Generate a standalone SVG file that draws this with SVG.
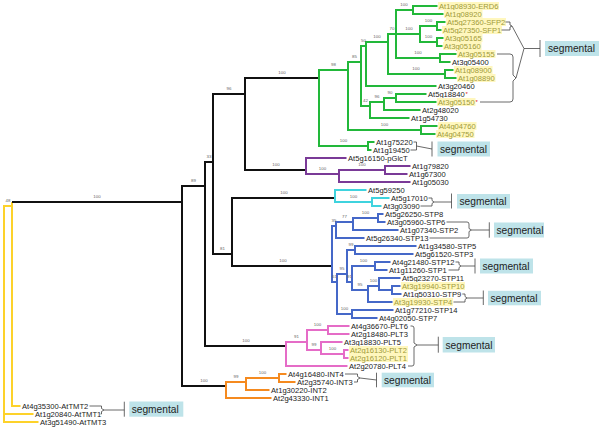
<svg xmlns="http://www.w3.org/2000/svg" width="600" height="427" viewBox="0 0 600 427">
<style>
.t{fill:none;stroke-width:2;stroke-linejoin:miter;stroke-linecap:butt}
.k{stroke:#111}.y{stroke:#FDD22A}.g{stroke:#22B83A}.p{stroke:#7A3A97}.c{stroke:#3FD3DE}.u{stroke:#4568C8}.m{stroke:#E56CC7}.o{stroke:#F58A1F}
text{font-family:"Liberation Sans",Arial,sans-serif}
.lf{font-size:7.6px;fill:#222}
.hl{fill:#A09A38}
.hb{fill:#FFF7BE}
.bs{font-size:4.4px;fill:#666;text-anchor:middle}
.br{fill:none;stroke:#444;stroke-width:0.8}
.sb{fill:#BEE3E9}
.st{font-size:10.2px;fill:#222}
.ast{font-size:6px;fill:#E02020}
</style>
<g id="connectors">
<path class="t y" d="M12,206 H4 V422 H38.5 M4,414 H33.5 M12,202 V406 H20.5"/>
<path class="t k" d="M12,202 H182 M205,186 H182 V386 H226 M213,162 H205 V346 H286 M245,94 H213 V254 H232 M319,78 H245 V170 H306 M335,198 H232 V266 H332"/>
<path class="t g" d="M348,70 H319 V146 H368 M361,62 H348 V130 H421 M366,46 H361 V106 H370 M388,42 H366 V86 H436.5 M396,34 H388 V74 H445 M413,10 H396 V58 H440 M396,34 H420 M437.5,6 H413 V14 H443.5 M437,26 H420 V42 H437 M445.5,22 H437 V30 H441.5 M443.5,38 H437 V46 H442.5 M456.5,54 H440 V62 H450.5 M453.5,70 H445 V78 H456.5 M384,102 H370 V118 H409.5 M396,98 H384 V110 H420.5 M426.5,94 H396 V102 H436.5 M437.5,126 H421 V134 H435.5 M374.5,142 H368 V150 H371.5"/>
<path class="t p" d="M346.5,158 H306 V174 H339 M385,170 H339 V182 H410.5 M410.5,166 H385 V174 H407.5"/>
<path class="t c" d="M366.5,190 H335 V202 H372 M389.5,198 H372 V206 H381.5"/>
<path class="t u" d="M336,226 H332 V282 H337 M353,222 H336 V238 H364.5 M378,218 H353 V230 H398.5 M383.5,214 H378 V222 H385.5 M347,274 H337 V314 H352 M355,250 H347 V282 H352 M416.5,246 H355 V254 H413.5 M375,266 H352 V290 H368 M390.5,262 H375 V270 H387.5 M379,286 H368 V302 H392.5 M400.5,278 H379 V290 H392 M400.5,286 H392 V294 H401.5 M393.5,310 H352 V318 H377.5"/>
<path class="t m" d="M307,342 H286 V366 H347.5 M328,330 H307 V350 H321 M349.5,326 H328 V334 H349.5 M342.5,342 H321 V354 H344 M348.5,350 H344 V358 H348.5"/>
<path class="t o" d="M246,382 H226 V398 H271.5 M279,378 H246 V390 H269.5 M286.5,374 H279 V382 H295.5"/>
</g>
<g id="support">
<text class="bs" x="8" y="202">48</text><text class="bs" x="97" y="198">100</text><text class="bs" x="193.5" y="182">89</text><text class="bs" x="209" y="158">33</text><text class="bs" x="229" y="90">96</text><text class="bs" x="282" y="74">100</text><text class="bs" x="276" y="166">100</text><text class="bs" x="222.5" y="250">81</text><text class="bs" x="284" y="194">100</text><text class="bs" x="283" y="262">100</text><text class="bs" x="246" y="342">100</text><text class="bs" x="204" y="382">100</text>
<text class="bs" x="333.5" y="66">98</text><text class="bs" x="354.5" y="58">85</text><text class="bs" x="363.5" y="42">50</text><text class="bs" x="377" y="38">100</text><text class="bs" x="392" y="30">70</text><text class="bs" x="404" y="6">100</text><text class="bs" x="409" y="30">100</text><text class="bs" x="428.5" y="22">100</text><text class="bs" x="428.5" y="38">100</text><text class="bs" x="418" y="54">100</text><text class="bs" x="416" y="70">100</text><text class="bs" x="365.5" y="102">42</text><text class="bs" x="377" y="98">96</text><text class="bs" x="390" y="94">90</text><text class="bs" x="384.5" y="126">100</text><text class="bs" x="343.5" y="142">100</text>
<text class="bs" x="322.5" y="170">100</text><text class="bs" x="362" y="166">100</text><text class="bs" x="353.5" y="198">100</text>
<text class="bs" x="334" y="222">35</text><text class="bs" x="344.5" y="218">77</text><text class="bs" x="365.5" y="214">100</text><text class="bs" x="334.5" y="278">61</text><text class="bs" x="342" y="270">95</text><text class="bs" x="351" y="246">99</text><text class="bs" x="349.5" y="278">91</text><text class="bs" x="363.5" y="262">100</text><text class="bs" x="360" y="286">95</text><text class="bs" x="373.5" y="282">100</text><text class="bs" x="344.5" y="310">100</text>
<text class="bs" x="296.5" y="338">91</text><text class="bs" x="317.5" y="326">100</text><text class="bs" x="314" y="346">99</text><text class="bs" x="332.5" y="350">100</text>
<text class="bs" x="236" y="378">99</text><text class="bs" x="262.5" y="374">100</text>
</g>
<g id="leaf-ERD6"><rect class="hb" x="438" y="2" width="61" height="8"/><text class="lf hl" x="439" y="8.7">At1g08930-ERD6</text></g>
<g id="leaf-At1g08920"><rect class="hb" x="444" y="10" width="38.5" height="8"/><text class="lf hl" x="445" y="16.7">At1g08920</text></g>
<g id="leaf-SFP2"><rect class="hb" x="446" y="18" width="60" height="8"/><text class="lf hl" x="447" y="24.7">At5g27360-SFP2</text></g>
<g id="leaf-SFP1"><rect class="hb" x="442" y="26" width="60" height="8"/><text class="lf hl" x="443" y="32.7">At5g27350-SFP1</text></g>
<g id="leaf-At3g05165"><rect class="hb" x="444" y="34" width="38.5" height="8"/><text class="lf hl" x="445" y="40.7">At3g05165</text></g>
<g id="leaf-At3g05160"><rect class="hb" x="443" y="42" width="38.5" height="8"/><text class="lf hl" x="444" y="48.7">At3g05160</text></g>
<g id="leaf-At3g05155"><rect class="hb" x="457" y="50" width="38.5" height="8"/><text class="lf hl" x="458" y="56.7">At3g05155</text></g>
<g id="leaf-At3g05400"><text class="lf" x="452" y="64.7">At3g05400</text></g>
<g id="leaf-At1g08900"><rect class="hb" x="454" y="66" width="38.5" height="8"/><text class="lf hl" x="455" y="72.7">At1g08900</text></g>
<g id="leaf-At1g08890"><rect class="hb" x="457" y="74" width="38.5" height="8"/><text class="lf hl" x="458" y="80.7">At1g08890</text></g>
<g id="leaf-At3g20460"><text class="lf" x="438" y="88.7">At3g20460</text></g>
<g id="leaf-At5g18840"><text class="lf" x="428" y="96.7">At5g18840</text><text class="ast" x="465.5" y="96">*</text></g>
<g id="leaf-At3g05150"><rect class="hb" x="437" y="98" width="38.5" height="8"/><text class="lf hl" x="438" y="104.7">At3g05150</text><text class="ast" x="475.5" y="104">*</text></g>
<g id="leaf-At2g48020"><text class="lf" x="422" y="112.7">At2g48020</text></g>
<g id="leaf-At1g54730"><text class="lf" x="411" y="120.7">At1g54730</text></g>
<g id="leaf-At4g04760"><rect class="hb" x="438" y="122" width="38.5" height="8"/><text class="lf hl" x="439" y="128.7">At4g04760</text></g>
<g id="leaf-At4g04750"><rect class="hb" x="436" y="130" width="38.5" height="8"/><text class="lf hl" x="437" y="136.7">At4g04750</text></g>
<g id="leaf-At1g75220"><text class="lf" x="376" y="144.7">At1g75220</text></g>
<g id="leaf-At1g19450"><text class="lf" x="373" y="152.7">At1g19450</text></g>
<g id="leaf-pGlcT"><text class="lf" x="348" y="160.7">At5g16150-pGlcT</text></g>
<g id="leaf-At1g79820"><text class="lf" x="412" y="168.7">At1g79820</text></g>
<g id="leaf-At1g67300"><text class="lf" x="409" y="176.7">At1g67300</text></g>
<g id="leaf-At1g05030"><text class="lf" x="412" y="184.7">At1g05030</text></g>
<g id="leaf-At5g59250"><text class="lf" x="368" y="192.7">At5g59250</text></g>
<g id="leaf-At5g17010"><text class="lf" x="391" y="200.7">At5g17010</text></g>
<g id="leaf-At3g03090"><text class="lf" x="383" y="208.7">At3g03090</text></g>
<g id="leaf-STP8"><text class="lf" x="385" y="216.7">At5g26250-STP8</text></g>
<g id="leaf-STP6"><text class="lf" x="387" y="224.7">At3g05960-STP6</text></g>
<g id="leaf-STP2"><text class="lf" x="400" y="232.7">At1g07340-STP2</text></g>
<g id="leaf-STP13"><text class="lf" x="366" y="240.7">At5g26340-STP13</text></g>
<g id="leaf-STP5"><text class="lf" x="418" y="248.7">At1g34580-STP5</text></g>
<g id="leaf-STP3"><text class="lf" x="415" y="256.7">At5g61520-STP3</text></g>
<g id="leaf-STP12"><text class="lf" x="392" y="264.7">At4g21480-STP12</text></g>
<g id="leaf-STP1"><text class="lf" x="389" y="272.7">At1g11260-STP1</text></g>
<g id="leaf-STP11"><text class="lf" x="402" y="280.7">At5g23270-STP11</text></g>
<g id="leaf-STP10"><rect class="hb" x="401" y="282" width="64" height="8"/><text class="lf hl" x="402" y="288.7">At3g19940-STP10</text></g>
<g id="leaf-STP9"><text class="lf" x="403" y="296.7">At1g50310-STP9</text></g>
<g id="leaf-STP4"><rect class="hb" x="393" y="298" width="60" height="8"/><text class="lf hl" x="394" y="304.7">At3g19930-STP4</text></g>
<g id="leaf-STP14"><text class="lf" x="395" y="312.7">At1g77210-STP14</text></g>
<g id="leaf-STP7"><text class="lf" x="379" y="320.7">At4g02050-STP7</text></g>
<g id="leaf-PLT6"><text class="lf" x="351" y="328.7">At4g36670-PLT6</text></g>
<g id="leaf-PLT3"><text class="lf" x="351" y="336.7">At2g18480-PLT3</text></g>
<g id="leaf-PLT5"><text class="lf" x="344" y="344.7">At3g18830-PLT5</text></g>
<g id="leaf-PLT2"><rect class="hb" x="349" y="346" width="59" height="8"/><text class="lf hl" x="350" y="352.7">At2g16130-PLT2</text></g>
<g id="leaf-PLT1"><rect class="hb" x="349" y="354" width="59" height="8"/><text class="lf hl" x="350" y="360.7">At2g16120-PLT1</text></g>
<g id="leaf-PLT4"><text class="lf" x="349" y="368.7">At2g20780-PLT4</text></g>
<g id="leaf-INT4"><text class="lf" x="288" y="376.7">At4g16480-INT4</text></g>
<g id="leaf-INT3"><text class="lf" x="297" y="384.7">At2g35740-INT3</text></g>
<g id="leaf-INT2"><text class="lf" x="271" y="392.7">At1g30220-INT2</text></g>
<g id="leaf-INT1"><text class="lf" x="273" y="400.7">At2g43330-INT1</text></g>
<g id="leaf-AtTMT2"><text class="lf" x="22" y="408.7">At4g35300-AtTMT2</text></g>
<g id="leaf-AtTMT1"><text class="lf" x="35" y="416.7">At1g20840-AtTMT1</text></g>
<g id="leaf-AtTMT3"><text class="lf" x="40" y="424.7">At3g51490-AtTMT3</text></g>
<g id="seg-1">
<path class="br" d="M505.5,22 H510 V25 L512,26 L510,27 V30 H501.5 M497,54 H510 Q513,54 513,57 V75 L516,78 L513,81 V99 Q513,102 510,102 H480 M512,26 L524,48.5 L516,78 M524,48.5 H540 M540,40 V57"/>
<rect class="sb" x="545" y="41" width="54" height="15"/><text class="st" x="548" y="52.3">segmental</text>
</g>
<g id="seg-2">
<path class="br" d="M413.5,142 H416.5 V150 H410.5 M416.5,146 L432,149 M432,141.5 V156.5"/>
<rect class="sb" x="437.5" y="141.5" width="52.5" height="15"/><text class="st" x="440" y="152.6">segmental</text>
</g>
<g id="seg-3">
<path class="br" d="M428.5,198 H432 V200.5 L434,202 L432,203.5 V206 H420.5 M434,202 H451.5 M451.5,193.5 V208.5"/>
<rect class="sb" x="457" y="194" width="53" height="14.5"/><text class="st" x="459.5" y="205">segmental</text>
</g>
<g id="seg-4">
<path class="br" d="M446.5,222 H467 Q469,222 469,224 V228.5 L471.5,230 L469,231.5 V236 Q469,238 467,238 H429.5 M471.5,230 H489.3 M489.3,222.3 V237.7"/>
<rect class="sb" x="494" y="222.5" width="50" height="15"/><text class="st" x="496.5" y="233.6">segmental</text>
</g>
<g id="seg-5">
<path class="br" d="M455.5,262 H459 V264.5 L461,266 L459,267.5 V270 H448.5 M461,266 H475 M475,258.5 V273.5"/>
<rect class="sb" x="480" y="258.5" width="53" height="15"/><text class="st" x="482.5" y="269.6">segmental</text>
</g>
<g id="seg-6">
<path class="br" d="M462.3,294 H465 V296.5 L467,298 L465,299.5 V302 H453.5 M467,298 H483.3 M483.3,290.5 V305"/>
<rect class="sb" x="488" y="290.8" width="53" height="14.5"/><text class="st" x="490.5" y="301.6">segmental</text>
</g>
<g id="seg-7">
<path class="br" d="M410.5,326 H412 Q414,326 414,328 V343 L417,345 L414,347 V364 Q414,366 412,366 H408 M417,345 H438.3 M438.3,336.7 V352.7"/>
<rect class="sb" x="442.7" y="337" width="52.3" height="15.5"/><text class="st" x="445.5" y="348.5">segmental</text>
</g>
<g id="seg-8">
<path class="br" d="M345,374 H357.5 V376.5 L360,378 L357.5,379.5 V382 H354 M360,378 L376.5,380 M376.5,372.7 V387.3"/>
<rect class="sb" x="381.7" y="372.7" width="52.3" height="14.6"/><text class="st" x="384" y="383.6">segmental</text>
</g>
<g id="seg-9">
<path class="br" d="M89.5,406 H101.5 V408.5 L104,410 L101.5,411.5 V414 H100.5 M104,410 H124.3 M124.3,401.7 V416.7"/>
<rect class="sb" x="129.3" y="401.5" width="54" height="15.2"/><text class="st" x="131.7" y="412.6">segmental</text>
</g>
</svg>
